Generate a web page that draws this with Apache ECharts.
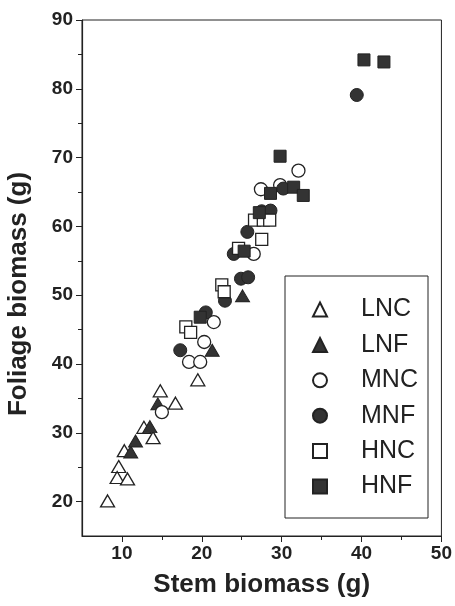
<!DOCTYPE html>
<html>
<head>
<meta charset="utf-8">
<script src="https://cdn.jsdelivr.net/npm/echarts@6/dist/echarts.min.js"></script>
<style>
  html, body { margin: 0; padding: 0; background: #fff; }
  #chart { width: 455px; height: 606px; }
</style>
</head>
<body>
<div id="chart"></div>
<script>
(function () {
  'use strict';

  // stem biomass (g), foliage biomass (g) per treatment
  var seriesNames = ['LNC', 'LNF', 'MNC', 'MNF', 'HNC', 'HNF'];

  var lncPoints = [[8.2, 20.1], [9.6, 25.1], [9.4, 23.5], [10.7, 23.3], [10.3, 27.4],
    [12.75, 30.8], [13.9, 29.3], [14.8, 36.1], [16.7, 34.3], [19.5, 37.7]];
  var lnfPoints = [[11.1, 27.2], [11.7, 28.8], [13.5, 30.9], [14.5, 34.2], [21.3, 42.0], [25.1, 49.9]];
  var mncPoints = [[15.0, 33.0], [18.4, 40.3], [19.8, 40.3], [20.3, 43.2], [21.5, 46.1],
    [26.5, 56.0], [27.4, 65.4], [29.8, 66.0], [32.1, 68.1]];
  var mnfPoints = [[17.3, 42.0], [20.5, 47.5], [22.9, 49.2], [24.9, 52.4], [25.8, 52.6], [24.0, 56.0],
    [25.7, 59.2], [27.5, 62.2], [28.6, 62.3], [30.2, 65.5], [39.4, 79.1]];
  var hncPoints = [[18.0, 45.4], [18.6, 44.6], [22.5, 51.5], [22.8, 50.5], [24.6, 56.8],
    [27.5, 58.1], [26.6, 60.9], [27.7, 60.9], [28.5, 60.9]];
  var hnfPoints = [[19.8, 46.8], [25.3, 56.4], [27.2, 62.0], [28.6, 64.8], [29.8, 70.2],
    [31.5, 65.7], [32.7, 64.5], [40.3, 84.2], [42.8, 83.9]];

  var xMajorTicks = [10, 20, 30, 40, 50];
  var xMinorTicks = [15, 25, 35, 45];
  var yMajorTicks = [20, 30, 40, 50, 60, 70, 80, 90];
  var yMinorTicks = [25, 35, 45, 55, 65, 75, 85];

  var ink = '#222';
  var fill = '#333';
  var labelFont = { color: ink, fontFamily: 'Liberation Sans, Arial, sans-serif', fontWeight: 'bold', fontSize: 19 };

  function marker(name, data, symbol, size, filled) {
    return {
      name: name,
      type: 'scatter',
      data: data,
      symbol: symbol,
      symbolSize: size,
      itemStyle: {
        color: filled ? fill : '#fff',
        borderColor: ink,
        borderWidth: filled ? 1 : 1.3,
        opacity: 1
      }
    };
  }

  var chart = echarts.init(document.getElementById('chart'));

  chart.setOption({
    animation: false,
    backgroundColor: '#fff',
    grid: { left: 82, right: 12, top: 20, bottom: 70, show: true, borderColor: ink, borderWidth: 1 },
    xAxis: [{
      type: 'value', min: 5, max: 50,
      name: 'Stem biomass (g)', nameLocation: 'middle', nameGap: 36,
      nameTextStyle: { color: ink, fontFamily: 'Liberation Sans, Arial, sans-serif', fontWeight: 'bold', fontSize: 26 },
      axisLine: { lineStyle: { color: ink, width: 1.2 } },
      axisTick: { customValues: xMajorTicks, length: 6, lineStyle: { color: ink } },
      axisLabel: Object.assign({ customValues: xMajorTicks, margin: 8 }, labelFont),
      splitLine: { show: false }
    }, {
      type: 'value', min: 5, max: 50, position: 'bottom',
      axisLine: { show: false },
      axisTick: { customValues: xMinorTicks, length: 4, lineStyle: { color: ink } },
      axisLabel: { show: false },
      splitLine: { show: false }
    }],
    yAxis: [{
      type: 'value', min: 15, max: 90,
      axisLine: { show: true, lineStyle: { color: ink, width: 1.2 } },
      axisTick: { show: true, customValues: yMajorTicks, length: 6, lineStyle: { color: ink } },
      axisLabel: Object.assign({ customValues: yMajorTicks, margin: 9 }, labelFont),
      splitLine: { show: false }
    }, {
      type: 'value', min: 15, max: 90, position: 'left',
      axisLine: { show: false },
      axisTick: { show: true, customValues: yMinorTicks, length: 4, lineStyle: { color: ink } },
      axisLabel: { show: false },
      splitLine: { show: false }
    }],
    legend: {
      data: seriesNames,
      orient: 'vertical',
      left: 312, top: 297,
      padding: 0,
      itemWidth: 14, itemHeight: 14,
      itemGap: 10.4,
      symbolKeepAspect: true,
      textStyle: { color: ink, fontFamily: 'Liberation Sans, Arial, sans-serif', fontSize: 25, lineHeight: 25, padding: [0, 0, 0, 29] }
    },
    graphic: [{
      type: 'rect',
      shape: { x: 285, y: 276, width: 143, height: 242 },
      style: { fill: 'none', stroke: ink, lineWidth: 1 },
      z: 1
    }, {
      type: 'text',
      x: 19, y: 294,
      rotation: Math.PI / 2,
      style: {
        text: 'Foliage biomass (g)',
        fill: ink,
        font: 'bold 26px "Liberation Sans", Arial, sans-serif',
        align: 'center', verticalAlign: 'middle'
      }
    }],
    series: [
      marker('LNC', lncPoints, 'triangle', [14, 12], false),
      marker('LNF', lnfPoints, 'triangle', [14, 12], true),
      marker('MNC', mncPoints, 'circle', 13, false),
      marker('MNF', mnfPoints, 'circle', 13, true),
      marker('HNC', hncPoints, 'rect', 12, false),
      marker('HNF', hnfPoints, 'rect', 12, true)
    ]
  });
})();
</script>
</body>
</html>
